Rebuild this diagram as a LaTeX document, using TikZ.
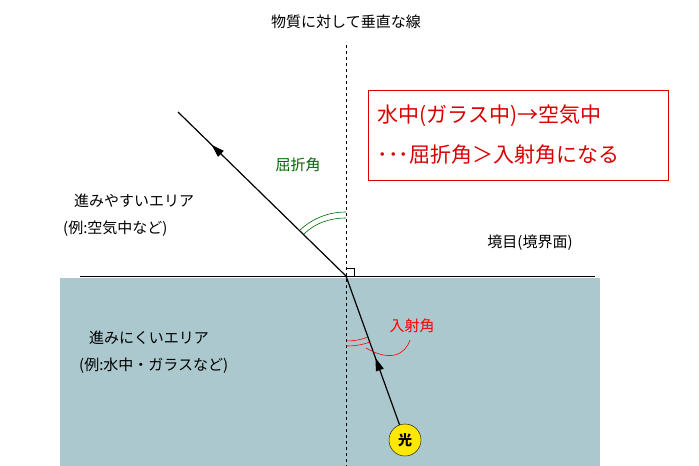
\documentclass[tikz,border=0pt]{standalone}
\usepackage{fontspec}
\newfontfamily\jp{Noto Sans CJK JP}
\usetikzlibrary{arrows.meta,decorations.markings}
\begin{document}
\begin{tikzpicture}[x=1pt,y=-1pt,
  lbl/.style={font=\jp\fontsize{15}{18}\selectfont,inner sep=1pt},
  big/.style={font=\jp\fontsize{21}{25}\selectfont,text=red!85!black,align=left},
  ray/.style={line width=1.2pt,postaction={decorate},decoration={markings,mark=at position #1 with {\arrow{Triangle[length=13pt,width=8pt]}}}}]
\useasboundingbox (0,0) rectangle (699,466);
\fill[fill={rgb,255:red,170;green,200;blue,205}] (60,278) rectangle (600,466);
\draw[line width=0.8pt] (80,276) coordinate (bl) -- (595,276) coordinate (br);
\coordinate (top) at (346,45); \coordinate (bot) at (346,466);
\draw[dashed,line width=0.8pt] (top) -- (bot);
\coordinate (O) at (346,276);
\coordinate (E) at (178,112);
\node[circle,draw,fill=yellow!90!orange,minimum size=32pt,inner sep=0pt,font=\jp\bfseries\fontsize{14}{16}\selectfont] (L) at (405,440) {光};
\draw[ray=0.45] (L) -- (O);
\draw[ray=0.8] (O) -- (E);
\draw[line width=0.5pt] (346,268) -- (354,268) -- (354,276);
% angles
\draw[green!40!black,line width=0.6pt] (346,218) .. controls (330,218) and (315,223) .. (304,234);
\draw[green!40!black,line width=0.6pt] (346,212) .. controls (329,212) and (313,218) .. (300,230);
\draw[red,line width=0.6pt] (346,341) .. controls (353,341) and (361,340) .. (368,337);
\draw[red,line width=0.6pt] (346,346) .. controls (354,346) and (362,345) .. (370,342);
\draw[red,line width=0.6pt] (366,348) .. controls (390,362) and (405,355) .. (410,340);
\node[lbl] (t0) at (346,22) {物質に対して垂直な線};
\node[lbl,text=green!40!black] (t1) at (298,165) {屈折角};
\node[lbl,text=red] (t2) at (412,326) {入射角};
\node[lbl] (t3) at (530,243) {境目(境界面)};
\node[lbl,anchor=west] (t4) at (73,201) {進みやすいエリア};
\node[lbl,anchor=west] (t5) at (62,229) {(例:空気中など)};
\node[lbl,anchor=west] (t6) at (88,338) {進みにくいエリア};
\node[lbl,anchor=west] (t7) at (78,366) {(例:水中・ガラスなど)};
\node[draw=red!85!black,line width=0.7pt,minimum width=300pt,minimum height=90pt] (box) at (518,135) {};
\node[big,anchor=west] (b1) at (374,116) {水中(ガラス中)→空気中};
\node[big,anchor=west] (b2) at (374,155) {･･･屈折角＞入射角になる};
\end{tikzpicture}
\end{document}
